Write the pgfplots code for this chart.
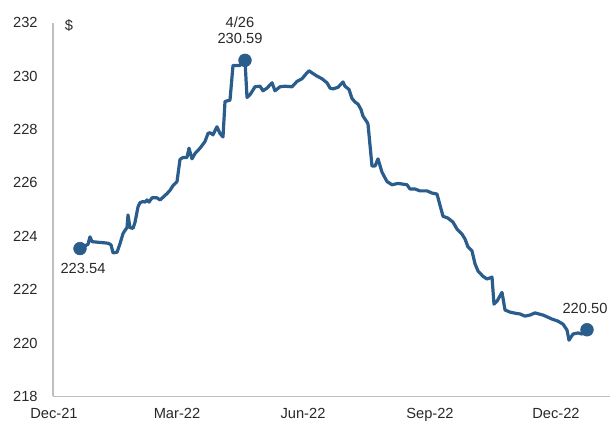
\documentclass[border=0pt]{standalone}
\usepackage{pgfplots}
\pgfplotsset{compat=1.18}
\usepackage{fontspec}
\setmainfont{Liberation Sans}
\definecolor{linec}{RGB}{42,93,140}
\definecolor{axisc}{RGB}{191,191,191}
\definecolor{txt}{RGB}{40,40,40}
\begin{document}
\begin{tikzpicture}
\begin{axis}[
  scale only axis,
  width=417.75pt, height=280.35pt,
  xmin=53, xmax=610, ymin=218, ymax=232,
  axis x line=bottom, axis y line=left,
  axis line style={axisc, line width=1.1pt, -},
  xtick={54,177,303,430,556},
  xticklabels={Dec-21,Mar-22,Jun-22,Sep-22,Dec-22},
  ytick={218,220,...,232},
  major tick length=0pt,
  tick label style={font=\fontsize{11}{13}\selectfont, text=txt},
  /pgf/number format/assume math mode=true,
  yticklabel style={xshift=-8pt},
  xticklabel style={yshift=-5pt},
  clip=false,
]
\addplot[linec, line width=2.4pt, line join=round] coordinates {
(80,223.54)(84,223.62)(88,223.70)(90,223.98)(92,223.80)(97,223.78)(103,223.76)(108,223.74)
(111,223.68)(113,223.38)(117,223.40)(120,223.72)(123,224.10)(125,224.22)(127,224.32)(128,224.80)
(130,224.32)(133,224.30)(135,224.52)(138,225.10)(140,225.26)(143,225.30)(145,225.28)(147,225.36)
(149,225.28)(152,225.44)(157,225.44)(160,225.36)(163,225.46)(167,225.60)(170,225.72)(173,225.90)
(177,226.05)(180,226.88)(183,226.95)(187,226.95)(189,227.30)(192,226.90)(195,227.10)(200,227.30)
(203,227.45)(205,227.55)(208,227.85)(210,227.88)(213,227.80)(217,228.10)(220,227.85)(223,227.72)
(225,229.05)(230,229.10)(233,230.40)(240,230.40)(245,230.59)(247,229.20)(250,229.30)(255,229.60)
(260,229.62)(263,229.45)(267,229.55)(272,229.75)(275,229.45)(280,229.60)(285,229.62)(292,229.60)
(297,229.80)(302,229.90)(306,230.08)(309,230.20)(312,230.12)(317,230.00)(322,229.90)(327,229.75)
(330,229.55)(333,229.52)(338,229.58)(343,229.78)(345,229.62)(349,229.50)(352,229.16)(355,229.03)
(358,228.95)(361,228.75)(363,228.50)(367,228.28)(368,228.20)(372,226.63)(375,226.63)(378,226.90)
(382,226.40)(387,226.05)(392,225.93)(398,225.98)(407,225.93)(410,225.77)(415,225.77)(420,225.70)
(427,225.70)(432,225.62)(437,225.58)(443,224.75)(448,224.68)(453,224.53)(457,224.27)(462,224.08)
(465,223.90)(468,223.60)(472,223.45)(475,222.97)(478,222.70)(483,222.50)(487,222.40)(492,222.47)
(494,221.46)(497,221.57)(502,221.90)(505,221.24)(510,221.16)(515,221.12)(520,221.09)(525,221.01)
(530,221.05)(535,221.13)(543,221.05)(552,220.90)(558,220.82)(563,220.71)(567,220.49)(569,220.11)
(573,220.34)(578,220.38)(582,220.34)(587,220.50)
};
\addplot[only marks, mark=*, mark size=4.8pt, linec] coordinates {(80,223.54)(245,230.59)(587,220.50)};
\node[text=txt, font=\fontsize{11}{13}\selectfont] at (axis cs:69,231.9) {\$};
\node[text=txt, font=\fontsize{11}{13}\selectfont, align=center] at (axis cs:240,231.7) {4/26\\[-1pt]230.59};
\node[text=txt, font=\fontsize{11}{13}\selectfont] at (axis cs:83,222.8) {223.54};
\node[text=txt, font=\fontsize{11}{13}\selectfont] at (axis cs:585,221.3) {220.50};
\coordinate (bl) at (axis cs:0,216.93);
\coordinate (tr) at (axis cs:611,232.85);
\end{axis}
\pgfresetboundingbox
\path[use as bounding box] (bl) rectangle (tr);
\end{tikzpicture}
\end{document}
